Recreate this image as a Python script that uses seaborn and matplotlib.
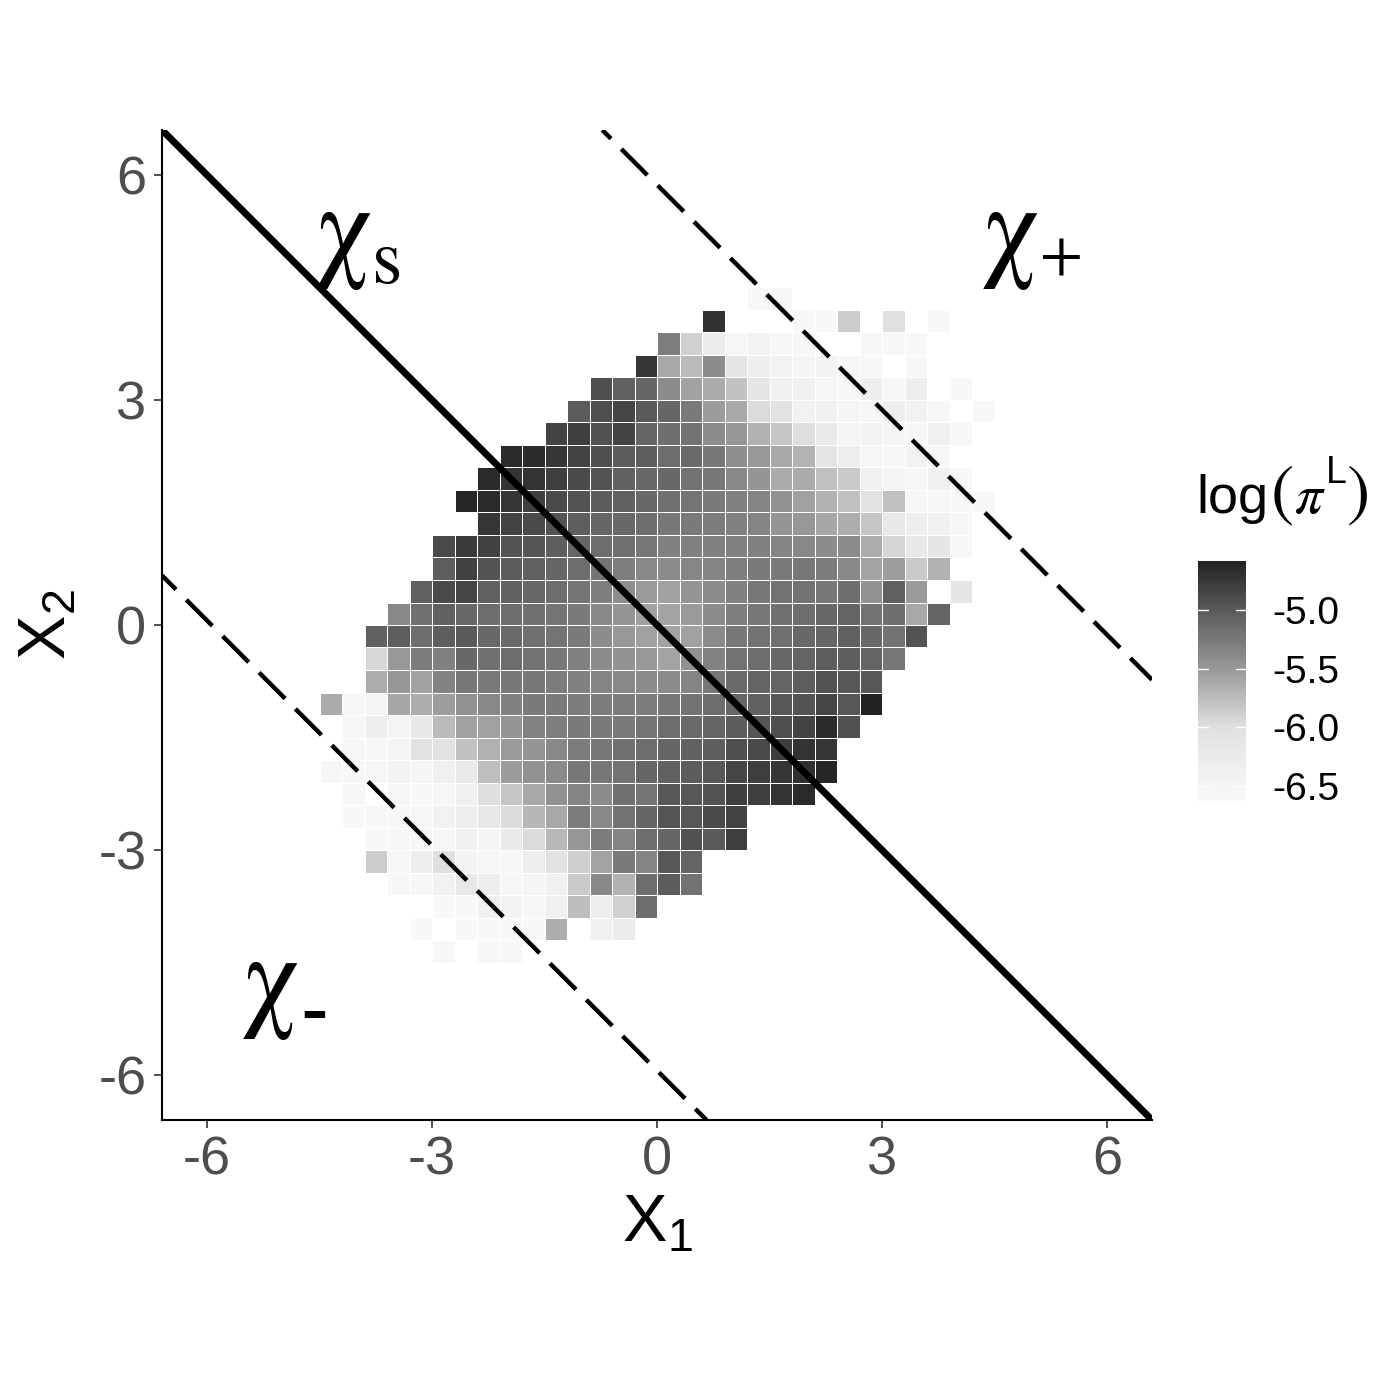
import numpy as np
import pandas as pd
import matplotlib
matplotlib.use("Agg")
import matplotlib.pyplot as plt
import seaborn as sns
from matplotlib.colors import LinearSegmentedColormap

n = np.nan

# log(pi^L) per row, named by the upper edge of the row in units of 0.3 (p = above 0, m = below 0)
row_p15 = [-6.60, -6.60]
row_p14 = [-4.70, n, n, n, -6.60, -6.60, -5.86, n, -6.00, n, -6.60]
row_p13 = [-5.29, -5.89, -6.29, -6.52, -6.43, -6.57, -6.57, n, n, -6.60, -6.60, -6.60]
row_p12 = [-4.74, -5.61, -5.74, -5.40, -6.10, -6.33, -6.43, -6.50, -6.45, -6.52, -6.57, n, -6.57]
row_p11 = [-4.92, -5.06, -5.10, -5.40, -5.57, -5.63, -5.79, -6.14, -6.40, -6.38, -6.52, -6.55, -6.33, -6.57, -6.33, n, -6.60]
row_p10 = [-5.02, -4.91, -4.86, -5.00, -5.10, -5.26, -5.53, -5.61, -5.96, -6.05, -6.43, -6.40, -6.50, -6.57, -6.33, -6.43, -6.57, n, -6.60]
row_p09 = [-4.83, -4.80, -4.94, -4.83, -5.10, -5.16, -5.19, -5.40, -5.48, -5.67, -5.82, -5.99, -6.24, -6.48, -6.45, -6.50, -6.55, -6.38, -6.57]
row_p08 = [-4.64, -4.65, -4.74, -4.83, -4.92, -5.02, -5.03, -5.15, -5.13, -5.24, -5.42, -5.50, -5.61, -5.69, -6.10, -6.33, -6.52, -6.57, -6.43, -6.57]
row_p07 = [-4.65, -4.73, -4.71, -4.79, -4.89, -4.95, -5.06, -5.11, -5.11, -5.19, -5.24, -5.37, -5.47, -5.63, -5.63, -5.78, -5.85, -6.38, -6.48, -6.57, -6.38, -6.57]
row_p06 = [-4.62, -4.64, -4.73, -4.80, -4.88, -4.95, -5.02, -5.06, -5.11, -5.18, -5.21, -5.26, -5.31, -5.34, -5.45, -5.56, -5.67, -5.78, -6.05, -5.78, -6.55, -6.57, -6.60, -6.60]
row_p05 = [-4.73, -4.83, -4.88, -4.95, -5.03, -5.10, -5.11, -5.16, -5.23, -5.26, -5.27, -5.31, -5.34, -5.47, -5.50, -5.60, -5.65, -5.82, -6.19, -6.33, -6.38, -6.57]
row_p04 = [-4.88, -4.77, -4.82, -4.95, -4.97, -5.03, -5.10, -5.15, -5.18, -5.23, -5.31, -5.31, -5.31, -5.31, -5.31, -5.34, -5.37, -5.40, -5.39, -5.64, -5.93, -6.19, -6.14, -6.57]
row_p03 = [-5.03, -4.82, -4.95, -5.02, -5.06, -5.10, -5.15, -5.21, -5.29, -5.37, -5.39, -5.35, -5.34, -5.29, -5.26, -5.26, -5.23, -5.27, -5.37, -5.58, -5.54, -5.85, -5.68]
row_p02 = [-5.05, -4.88, -4.85, -5.05, -5.06, -5.11, -5.15, -5.21, -5.29, -5.42, -5.51, -5.56, -5.47, -5.39, -5.31, -5.24, -5.19, -5.19, -5.24, -5.16, -5.45, -5.05, -5.51, n, -6.14]
row_p01 = [-5.37, -5.18, -5.05, -5.11, -5.15, -5.15, -5.18, -5.21, -5.26, -5.37, -5.47, -5.56, -5.58, -5.51, -5.40, -5.29, -5.23, -5.18, -5.15, -5.11, -5.08, -5.19, -5.16, -5.61, -5.08]
row_000 = [-5.06, -5.03, -5.16, -5.03, -5.00, -5.11, -5.13, -5.18, -5.21, -5.26, -5.40, -5.50, -5.56, -5.58, -5.56, -5.39, -5.24, -5.19, -5.18, -5.11, -5.10, -5.06, -5.11, -5.19, -4.95]
row_m01 = [-5.94, -5.50, -5.27, -5.31, -5.11, -5.18, -5.15, -5.19, -5.24, -5.31, -5.39, -5.45, -5.50, -5.58, -5.44, -5.32, -5.19, -5.15, -5.11, -5.08, -5.03, -5.03, -5.08, -5.23]
row_m02 = [-5.64, -5.48, -5.57, -5.32, -5.23, -5.26, -5.24, -5.23, -5.27, -5.31, -5.34, -5.37, -5.39, -5.39, -5.34, -5.23, -5.13, -5.08, -5.08, -5.03, -4.95, -4.98, -4.98]
row_m03 = [-5.63, -6.57, -6.48, -5.60, -5.65, -5.54, -5.44, -5.37, -5.31, -5.26, -5.26, -5.27, -5.27, -5.27, -5.27, -5.23, -5.19, -5.16, -5.10, -5.06, -4.98, -4.95, -4.85, -4.98, -4.58]
row_m04 = [-6.57, -6.33, -6.48, -6.19, -5.74, -5.56, -5.56, -5.47, -5.32, -5.29, -5.26, -5.26, -5.26, -5.21, -5.15, -5.13, -5.10, -5.02, -4.97, -4.92, -4.83, -4.65, -4.94]
row_m05 = [-6.57, -6.57, -6.48, -6.05, -6.05, -5.79, -5.67, -5.51, -5.47, -5.37, -5.27, -5.23, -5.18, -5.15, -5.10, -5.06, -5.03, -4.92, -4.88, -4.79, -4.71, -4.74]
row_m06 = [-6.57, -6.57, -6.52, -6.45, -6.50, -6.38, -6.24, -5.76, -5.53, -5.45, -5.39, -5.23, -5.23, -5.19, -5.10, -5.05, -5.02, -4.98, -4.86, -4.79, -4.74, -4.68, -4.62]
row_m07 = [-6.57, n, -6.52, -6.60, -6.57, -6.38, -5.99, -5.81, -5.61, -5.44, -5.34, -5.39, -5.18, -5.21, -4.98, -4.98, -4.95, -4.80, -4.79, -4.71, -4.64]
row_m08 = [-6.60, -6.57, -6.57, -6.57, -6.43, -6.33, -6.19, -5.97, -5.71, -5.61, -5.27, -5.37, -5.19, -5.10, -4.97, -4.98, -4.88, -4.83]
row_m09 = [-6.60, -6.57, -6.57, -6.55, -6.40, -6.50, -6.24, -5.96, -5.72, -5.48, -5.27, -5.34, -5.16, -5.10, -4.94, -5.00, -4.79]
row_m10 = [-5.86, -6.55, -6.33, -6.00, -6.45, -6.52, -6.55, -6.33, -6.05, -5.88, -5.58, -5.26, -5.34, -4.98, -5.08]
row_m11 = [-6.57, -6.57, -6.43, -6.19, -6.33, -6.57, -6.50, -6.38, -5.85, -5.37, -5.68, -5.15, -5.02, -5.19]
row_m12 = [-6.60, -6.60, -6.38, -6.45, -6.57, -6.38, -5.75, -6.33, -5.89, -5.16]
row_m13 = [-6.60, n, -6.60, -6.60, -6.60, -6.60, -5.65, n, -6.38, -6.29]
row_m14 = [-6.60, n, -6.60, -6.60]

rows = [row_p15, row_p14, row_p13, row_p12, row_p11, row_p10, row_p09, row_p08, row_p07, row_p06,
        row_p05, row_p04, row_p03, row_p02, row_p01, row_000, row_m01, row_m02, row_m03, row_m04,
        row_m05, row_m06, row_m07, row_m08, row_m09, row_m10, row_m11, row_m12, row_m13, row_m14]
row_tops = list(range(15, -15, -1))
# first column of each row, in units of 0.3 from x1 = 0
row_first_col = [4, 2, 0, -1, -3, -4, -5, -7, -8, -9, -8, -10, -10, -11, -12,
                 -13, -13, -13, -15, -14, -14, -15, -14, -14, -13, -13, -12, -10, -11, -10]

legend_stops = [-4.58, -5.0, -5.5, -6.0, -6.5, -6.63]
legend_greys = [0x22, 0x5a, 0x98, 0xe0, 0xf5, 0xf9]
legend_ticks = [-6.5, -6.0, -5.5, -5.0]
axis_ticks = [-6, -3, 0, 3, 6]
boundary_sums = [-5.94, 5.87]

CELL = 0.3
LIM = 6.6
N_CELLS = 44

sns.set_theme(style="white")
plt.rcParams["font.family"] = ["Liberation Sans", "DejaVu Sans"]
plt.rcParams["mathtext.fontset"] = "custom"
plt.rcParams["mathtext.rm"] = "Liberation Sans"
plt.rcParams["mathtext.default"] = "rm"

grid = np.full((N_CELLS, N_CELLS), np.nan)
for top, first, vals in zip(row_tops, row_first_col, rows):
    grid[22 - top, first + 22:first + 22 + len(vals)] = vals
x_edges = np.arange(N_CELLS) * CELL - LIM
heat_df = pd.DataFrame(grid, columns=np.round(x_edges, 1), index=np.round(LIM - np.arange(N_CELLS) * CELL, 1))

vmin, vmax = min(legend_stops), max(legend_stops)
pairs = sorted(zip(legend_stops, legend_greys))
cmap = LinearSegmentedColormap.from_list(
    "pi_grey", [((v - vmin) / (vmax - vmin), (g / 255,) * 3) for v, g in pairs], N=256)


def col_pos(x):
    return (np.asarray(x) + LIM) / CELL


def row_pos(y):
    return (LIM - np.asarray(y)) / CELL


def put(px, py, s, size, **kw):
    kw.setdefault("color", "black")
    fig.text(px / 1400, 1 - py / 1400, s, fontsize=size, ha="left", va="baseline", **kw)


fig = plt.figure(figsize=(7, 7), dpi=200)
ax = fig.add_axes([162 / 1400, 280 / 1400, 990 / 1400, 990 / 1400])
cax = fig.add_axes([1198 / 1400, 599 / 1400, 48 / 1400, 240 / 1400])

sns.heatmap(heat_df, ax=ax, cbar_ax=cax, cmap=cmap, vmin=vmin, vmax=vmax,
            linewidths=0.35, linecolor="white", xticklabels=False, yticklabels=False)

# boundaries of the strip
ends = np.array([-LIM, LIM])
ax.plot(col_pos(ends), row_pos(-ends), color="black", lw=2.5, solid_capstyle="butt", zorder=5)
# dashes start at the axes edge, so the phase does not depend on clipping
low = boundary_sums[0]
ax.plot(col_pos([-LIM, low + LIM]), row_pos([low + LIM, -LIM]), color="black", lw=1.6,
        linestyle=(3.83, (8.28, 3.29)), dash_capstyle="butt", zorder=5)
high = boundary_sums[1]
ax.plot(col_pos([high - LIM, LIM]), row_pos([LIM, high - LIM]), color="black", lw=1.6,
        linestyle=(5.5, (8.28, 3.29)), dash_capstyle="butt", zorder=5)

ax.set_xlim(0, N_CELLS)
ax.set_ylim(N_CELLS, 0)
ax.set_xticks(col_pos(axis_ticks))
ax.set_yticks(row_pos(axis_ticks))
ax.set_xticklabels([str(t) for t in axis_ticks])
ax.set_yticklabels([str(t) for t in axis_ticks], rotation=0)
ax.tick_params(axis="both", which="major", bottom=True, left=True, length=2.8, width=0.6,
               color="#333333", labelsize=19.5, labelcolor="#4D4D4D", pad=2.8)
for side in ["left", "bottom"]:
    ax.spines[side].set_visible(True)
    ax.spines[side].set_color("black")
    ax.spines[side].set_linewidth(0.75)
for side in ["top", "right"]:
    ax.spines[side].set_visible(False)

ax.set_xlabel(r"$\mathrm{X}_1$", fontsize=24, labelpad=3, color="black")
ax.set_ylabel(r"$\mathrm{X}_2$", fontsize=24, labelpad=6.7, color="black")

# region labels
serif = "STIXGeneral"
put(315, 265, "\u03c7", 41, family=serif)
put(372, 283, "s", 28, family=serif)
put(982, 265, "\u03c7", 41, family=serif)
put(1040, 273, "+", 22.5, family=serif)
put(242, 1015, "\u03c7", 41, family=serif)
put(300, 1037, "-", 30)

# colour legend
cbar = ax.collections[0].colorbar
cbar.outline.set_visible(False)
cbar.set_ticks(legend_ticks)
cbar.set_ticklabels([f"{t:.1f}" for t in legend_ticks])
cax.tick_params(length=0, labelsize=14, labelcolor="black", pad=9.3)
tick_trans = cax.get_yaxis_transform()
for t in legend_ticks:
    cax.plot([0, 0.2], [t, t], color="white", lw=0.5, transform=tick_trans)
    cax.plot([0.8, 1], [t, t], color="white", lw=0.5, transform=tick_trans)

put(1196, 513, "log", 19.5)
put(1271, 513, "(", 25, family=serif)
put(1295, 513, "\u03c0", 20, family=serif, style="italic")
put(1326, 483, "L", 13.5)
put(1347, 513, ")", 25, family=serif)

fig.savefig("out.png", dpi=200, facecolor="white")
